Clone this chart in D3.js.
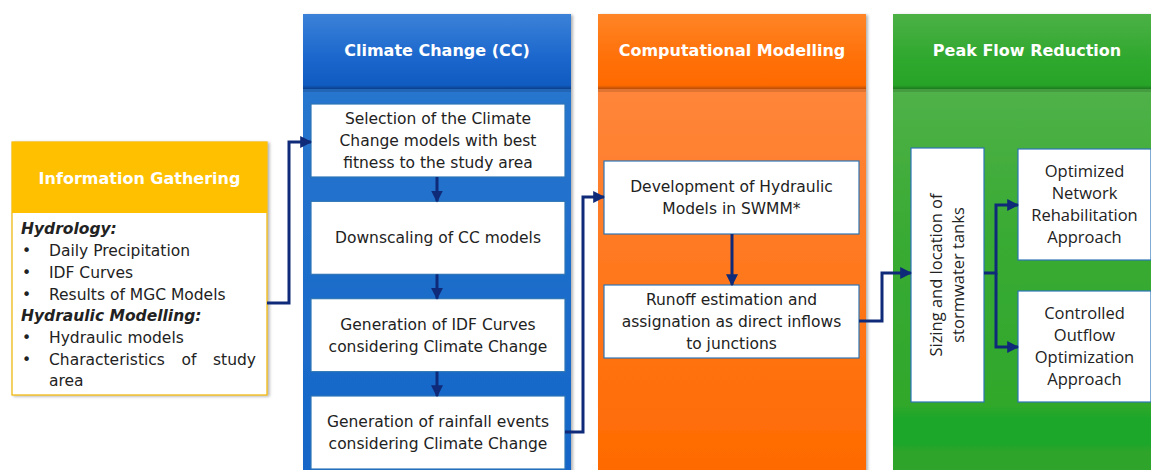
<!DOCTYPE html>
<html>
  <head>
    <meta charset="utf-8">
    <title>Methodology flowchart</title>
    <script src="https://cdn.jsdelivr.net/npm/d3@7"></script>
    <style>
      body { margin: 0; background: #fff; }
      svg { display: block; }
      .hdr { font-family: "DejaVu Sans", Verdana, sans-serif; font-weight: bold; font-size: 16px; fill: #fff; }
      .box-text { font-family: "DejaVu Sans", Verdana, sans-serif; font-size: 15.5px; fill: #222; }
      .pfr-text { font-family: "Open Sans", "Noto Sans", sans-serif; font-size: 16.5px; fill: #222; }
    </style>
  </head>
  <body>
    <div id="chart"></div>
    <script>
      // stage titles (first one is the side panel, the rest are the columns)
      const stages = ["Information Gathering", "Climate Change (CC)", "Computational Modelling", "Peak Flow Reduction"];
      const stageColors = ["#ffc000", "#1c68c9", "#ff6c05", "#35a933"];

      // information gathering list
      const hydrologyItems = ["Daily Precipitation", "IDF Curves", "Results of MGC Models"];
      const hydraulicItems = ["Hydraulic models", "Characteristics of study", "area"];

      // climate change steps
      const ccSteps = [
        ["Selection of the Climate", "Change models with best", "fitness to the study area"],
        ["Downscaling of CC models"],
        ["Generation of IDF Curves", "considering Climate Change"],
        ["Generation of rainfall events", "considering Climate Change"]
      ];

      // computational modelling steps
      const cmSteps = [
        ["Development of Hydraulic", "Models in SWMM*"],
        ["Runoff estimation and", "assignation as direct inflows", "to junctions"]
      ];

      // peak flow reduction
      const pfrCentral = ["Sizing and location of", "stormwater tanks"];
      const pfrOutcomes = [
        ["Optimized", "Network", "Rehabilitation", "Approach"],
        ["Controlled", "Outflow", "Optimization", "Approach"]
      ];

      const width = 1151, height = 470;
      const navy = "#0f2a78";

      const svg = d3.select("#chart").append("svg")
        .attr("width", width)
        .attr("height", height);

      const defs = svg.append("defs");

      const shadow = defs.append("filter").attr("id", "shadow")
        .attr("x", "-5%").attr("y", "-5%").attr("width", "115%").attr("height", "115%");
      shadow.append("feDropShadow")
        .attr("dx", 2).attr("dy", 1).attr("stdDeviation", 1.5)
        .attr("flood-color", "#000").attr("flood-opacity", 0.3);

      defs.append("marker")
        .attr("id", "arrow")
        .attr("viewBox", "0 0 10 10")
        .attr("refX", 9).attr("refY", 5)
        .attr("markerWidth", 4).attr("markerHeight", 4)
        .attr("orient", "auto")
        .append("path")
          .attr("d", "M0,0L10,5L0,10z")
          .attr("fill", navy);

      function gradient(id, stops) {
        const g = defs.append("linearGradient").attr("id", id)
          .attr("x1", 0).attr("y1", 0).attr("x2", 0).attr("y2", 1);
        stops.forEach(s => g.append("stop").attr("offset", s[0]).attr("stop-color", s[1]));
      }
      gradient("hdr1", [[0, "#3b82d8"], [0.6, "#1a66cc"], [0.95, "#0f5bc0"], [1, "#0b3f8a"]]);
      gradient("hdr2", [[0, "#ff8526"], [0.6, "#ff7008"], [0.95, "#ff6a00"], [1, "#b84d08"]]);
      gradient("hdr3", [[0, "#4cb146"], [0.6, "#2fa82e"], [0.95, "#27a428"], [1, "#1d7a1f"]]);
      gradient("body1", [[0, "#2d78cf"], [0.5, "#1f6fcb"], [1, "#1565c8"]]);
      gradient("body2", [[0, "#ff8b47"], [0.5, "#ff7a22"], [1, "#ff6a00"]]);
      gradient("body3", [[0, "#5cb553"], [0.45, "#3aab35"], [0.85, "#30a82b"], [0.88, "#1ba62a"], [0.93, "#1ba62a"], [0.95, "#2ea52a"], [1, "#2ea52a"]]);

      // column positions
      const colX = d3.scaleLinear().domain([1, 3]).range([303, 893]);
      const colW = 268, colTop = 14, hdrBottom = 89;

      const cols = svg.selectAll("g.col")
        .data(stages.slice(1))
        .join("g")
          .attr("class", "col")
          .attr("transform", (d, i) => `translate(${colX(i + 1)},${colTop})`);

      cols.append("rect")
        .attr("width", colW).attr("height", height - colTop + 5)
        .attr("fill", (d, i) => `url(#body${i + 1})`)
        .attr("filter", "url(#shadow)");
      cols.append("rect")
        .attr("width", colW).attr("height", hdrBottom - colTop)
        .attr("fill", (d, i) => `url(#hdr${i + 1})`);
      cols.append("rect")
        .attr("y", hdrBottom - colTop).attr("width", colW).attr("height", 3)
        .attr("fill", "#000").attr("opacity", 0.12);
      cols.append("text")
        .attr("class", "hdr")
        .attr("x", colW / 2).attr("y", 50 - colTop)
        .attr("text-anchor", "middle").attr("dy", "0.35em")
        .text(d => d);

      // multi-line label helper
      function label(g, lines, cx, cy, cls, lh) {
        const t = g.append("text").attr("class", cls).attr("text-anchor", "middle");
        lines.forEach((l, i) => {
          t.append("tspan")
            .attr("x", cx)
            .attr("y", cy + (i - (lines.length - 1) / 2) * lh)
            .attr("dy", "0.35em")
            .text(l);
        });
        return t;
      }

      function box(x, y, w, h, lines, cls, lh) {
        svg.append("rect")
          .attr("x", x).attr("y", y).attr("width", w).attr("height", h)
          .attr("fill", "#fff").attr("stroke", "#2e75b6").attr("stroke-width", 1.2);
        label(svg, lines, x + w / 2, y + h / 2, cls, lh);
      }

      // --- Information Gathering panel
      const ig = { x: 12, y: 142, w: 255, hh: 71, bh: 182 };
      svg.append("rect")
        .attr("x", ig.x).attr("y", ig.y).attr("width", ig.w).attr("height", ig.hh + ig.bh)
        .attr("fill", "#fff").attr("stroke", "#f0b400").attr("stroke-width", 1.2)
        .attr("filter", "url(#shadow)");
      svg.append("rect")
        .attr("x", ig.x).attr("y", ig.y).attr("width", ig.w).attr("height", ig.hh)
        .attr("fill", stageColors[0]);
      svg.append("text")
        .attr("class", "hdr")
        .attr("x", ig.x + ig.w / 2).attr("y", ig.y + 36)
        .attr("text-anchor", "middle").attr("dy", "0.35em")
        .text(stages[0]);

      const igLines = [{ head: "Hydrology:" }]
        .concat(hydrologyItems.map(t => ({ item: t })))
        .concat([{ head: "Hydraulic Modelling:" }])
        .concat(hydraulicItems.map(t => ({ item: t, cont: t === "area" })));
      const igY = d3.scaleLinear().domain([0, igLines.length - 1]).range([229, 381]);
      const textLeft = 49, textRight = 256;
      igLines.forEach((d, i) => {
        const y = igY(i);
        if (d.head) {
          svg.append("text").attr("class", "box-text")
            .attr("x", 21).attr("y", y).attr("dy", "0.35em")
            .style("font-weight", "bold").style("font-style", "italic")
            .text(d.head);
          return;
        }
        if (!d.cont) {
          svg.append("text").attr("class", "box-text")
            .attr("x", 22).attr("y", y).attr("dy", "0.35em").text("•");
        }
        if (d.item === "Characteristics of study") {
          // justified line: measure the words, share the leftover space between gaps
          const words = d.item.split(" ");
          const nodes = words.map(w => svg.append("text").attr("class", "box-text")
            .attr("y", y).attr("dy", "0.35em").text(w));
          const widths = nodes.map(n => n.node().getComputedTextLength());
          const gap = (textRight - textLeft - d3.sum(widths)) / (words.length - 1);
          let x = textLeft;
          nodes.forEach((n, j) => { n.attr("x", x); x += widths[j] + gap; });
        } else {
          svg.append("text").attr("class", "box-text")
            .attr("x", textLeft).attr("y", y).attr("dy", "0.35em").text(d.item);
        }
      });

      // --- Climate Change steps
      const ccY = d3.scaleLinear().domain([0, ccSteps.length - 1]).range([104, 396]);
      const ccH = 73, ccBoxX = 311, ccBoxW = 254;
      ccSteps.forEach((lines, i) => box(ccBoxX, ccY(i), ccBoxW, ccH, lines, "box-text", 22));

      // --- Computational Modelling steps
      const cmY = d3.scaleLinear().domain([0, cmSteps.length - 1]).range([161, 285]);
      const cmH = 73, cmBoxX = 604, cmBoxW = 255;
      cmSteps.forEach((lines, i) => box(cmBoxX, cmY(i), cmBoxW, cmH, lines, "box-text", 22));

      // --- Peak Flow Reduction
      const sz = { x: 911, y: 148, w: 73, h: 254 };
      svg.append("rect")
        .attr("x", sz.x).attr("y", sz.y).attr("width", sz.w).attr("height", sz.h)
        .attr("fill", "#fff").attr("stroke", "#2e75b6").attr("stroke-width", 1.2);
      const szG = svg.append("g")
        .attr("transform", `translate(${sz.x + sz.w / 2},${sz.y + sz.h / 2}) rotate(-90)`);
      label(szG, pfrCentral, 0, 0, "pfr-text", 22);

      const outY = d3.scaleLinear().domain([0, pfrOutcomes.length - 1]).range([149, 291]);
      const outH = 111, outX = 1018, outW = 133;
      pfrOutcomes.forEach((lines, i) => box(outX, outY(i), outW, outH, lines, "pfr-text", 22));

      // --- connectors
      const link = d3.line();
      const arrows = [
        [[ig.x + ig.w, 303], [289, 303], [289, ccY(0) + 38], [ccBoxX, ccY(0) + 38]],
        [[ccBoxX + ccBoxW, ccY(3) + 36], [583, ccY(3) + 36], [583, cmY(0) + 36], [cmBoxX, cmY(0) + 36]],
        [[cmBoxX + cmBoxW, cmY(1) + 36], [882, cmY(1) + 36], [882, 273], [sz.x, 273]],
        [[sz.x + sz.w, 273], [996, 273], [996, outY(0) + 56], [outX, outY(0) + 56]],
        [[996, 273], [996, outY(1) + 56], [outX, outY(1) + 56]]
      ];
      // vertical step arrows
      d3.range(ccSteps.length - 1).forEach(i => {
        arrows.push([[437, ccY(i) + ccH], [437, ccY(i + 1)]]);
      });
      arrows.push([[732, cmY(0) + cmH], [732, cmY(1)]]);

      svg.selectAll("path.link")
        .data(arrows)
        .join("path")
          .attr("class", "link")
          .attr("d", link)
          .attr("fill", "none")
          .attr("stroke", navy)
          .attr("stroke-width", 3)
          .attr("marker-end", "url(#arrow)");
    </script>
  </body>
</html>
